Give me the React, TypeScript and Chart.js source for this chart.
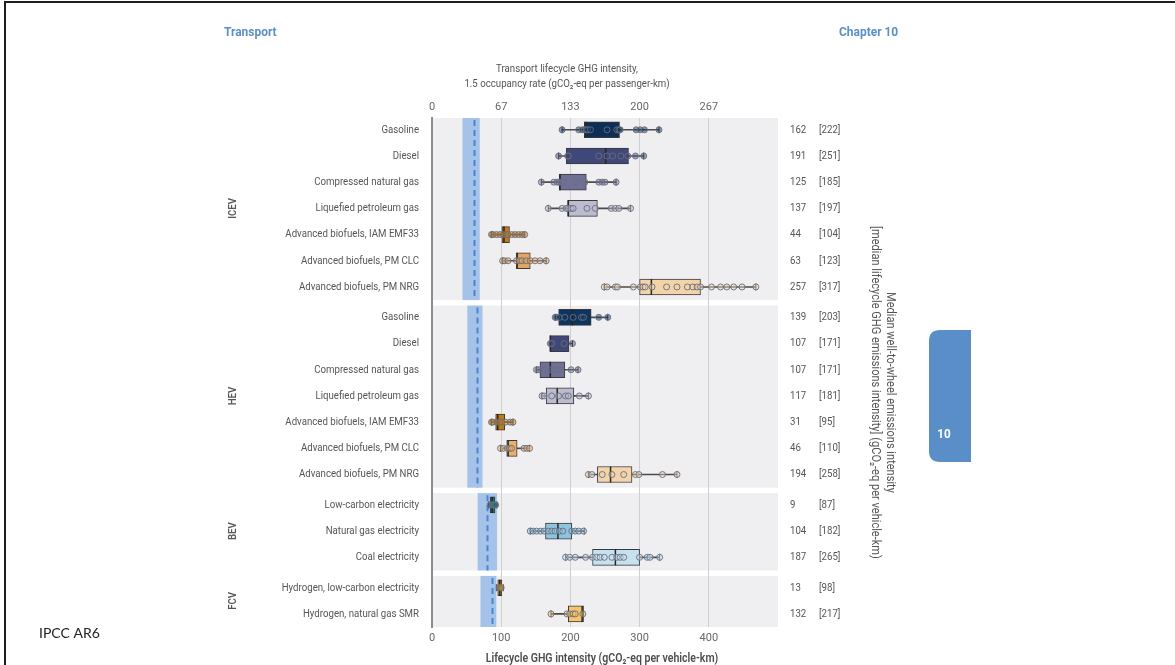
import React, { useEffect, useRef } from "react";
import { Chart, registerables } from "chart.js";

Chart.register(...registerables);

// ---- data -------------------------------------------------------------

const groupNames = ["ICEV", "HEV", "BEV", "FCV"];

const rowLabels = [
  "Gasoline",
  "Diesel",
  "Compressed natural gas",
  "Liquefied petroleum gas",
  "Advanced biofuels, IAM EMF33",
  "Advanced biofuels, PM CLC",
  "Advanced biofuels, PM NRG",
  "Gasoline",
  "Diesel",
  "Compressed natural gas",
  "Liquefied petroleum gas",
  "Advanced biofuels, IAM EMF33",
  "Advanced biofuels, PM CLC",
  "Advanced biofuels, PM NRG",
  "Low-carbon electricity",
  "Natural gas electricity",
  "Coal electricity",
  "Hydrogen, low-carbon electricity",
  "Hydrogen, natural gas SMR",
];

const rowGroup = [0, 0, 0, 0, 0, 0, 0, 1, 1, 1, 1, 1, 1, 1, 2, 2, 2, 3, 3];

// median well-to-wheel intensity (gCO2-eq per vehicle-km)
const wtwMedian = [162, 191, 125, 137, 44, 63, 257, 139, 107, 107, 117, 31, 46, 194, 9, 104, 187, 13, 132];
// median lifecycle intensity (gCO2-eq per vehicle-km)
const lifecycleMedian = [222, 251, 185, 197, 104, 123, 317, 203, 171, 171, 181, 95, 110, 258, 87, 182, 265, 98, 217];

const whiskerLow = [188, 183, 158, 168, 86, 102, 249, 178, 170, 151, 159, 86, 99, 226, 82, 142, 193, 93, 172];
const boxQ1 = [220, 194, 184, 196, 101, 122, 300, 183, 170.5, 156, 165, 92, 108, 239, 84, 164, 232, 95, 197];
const boxQ3 = [271, 284, 223, 239, 112, 142, 388, 230, 198, 192, 205, 105, 123, 289, 91, 202, 300, 101, 219];
const whiskerHigh = [328, 306, 266, 287, 134, 165, 468, 254, 203, 211, 226, 117, 141, 354, 94, 220, 329, 103, 219];

const samplePoints: number[][] = [
  [188, 212, 217, 220, 223, 225, 229, 253, 267, 270, 272, 295, 301, 307, 328],
  [183, 196, 197, 241, 253, 261, 273, 283, 294, 306],
  [158, 176, 181, 184, 187, 190, 208, 221, 241, 246, 250, 266],
  [168, 188, 194, 197, 201, 204, 224, 236, 259, 265, 270, 287],
  [86, 88, 93, 98, 103, 107, 110, 115, 120, 125, 130, 134],
  [102, 105, 110, 122, 126, 130, 136, 142, 149, 156, 165],
  [249, 253, 265, 268, 291, 301, 305, 308, 318, 339, 354, 369, 377, 383, 388, 404, 417, 426, 436, 448, 468],
  [178, 180, 184, 192, 204, 216, 219, 241, 254],
  [171, 173, 191, 203],
  [151, 154, 163, 172, 180, 184, 201, 211],
  [159, 162, 173, 183, 193, 197, 213, 226],
  [86, 88, 94, 98, 101, 106, 113, 117],
  [99, 103, 109, 112, 115, 133, 137, 141],
  [226, 231, 246, 260, 277, 294, 299, 333, 354],
  [84, 87, 88, 90, 92],
  [142, 146, 151, 157, 162, 168, 173, 178, 184, 189, 202, 207, 212, 219],
  [193, 199, 207, 222, 232, 238, 243, 249, 260, 267, 272, 277, 300, 311, 315, 329],
  [97, 98, 100],
  [172, 195, 199, 204, 207, 218],
];

// 1.5 °C-compatible range per powertrain group (low, high, central)
const bandLow = [44, 51, 66, 70];
const bandHigh = [69, 73, 94, 93];
const bandMid = [61, 65, 79, 87];

const xTickValues = [0, 100, 200, 300, 400];
const occupancyRate = 1.5;

// ---- styling ----------------------------------------------------------

const rowColors = [
  "#0c2e57", "#3f4878", "#6f7097", "#bcbbcf", "#c47912", "#e3a65f", "#f3d4aa",
  "#0d3560", "#3f4878", "#6f7097", "#bcbbcf", "#c47912", "#eab06c", "#f3d4aa",
  "#1d6f7c", "#8ec4df", "#c6e2f1",
  "#c98b1d", "#f6c56b",
];

const GROUP_GAP = 0.16;
const PANEL_PAD_TOP = 0.45;
const PANEL_PAD_BOTTOM = 0.5;
const rowPos = rowGroup.map((g, i) => i + g * GROUP_GAP);

const FONT = "Roboto, 'Noto Sans', sans-serif";
const SQUEEZE = 0.84;

function withAlpha(hex: string, a: number) {
  const n = parseInt(hex.slice(1), 16);
  return `rgba(${(n >> 16) & 255},${(n >> 8) & 255},${n & 255},${a})`;
}

type TextOpts = {
  size: number;
  color: string;
  weight?: number | string;
  align?: CanvasTextAlign;
  family?: string;
  squeeze?: number;
  rotate?: number;
};

function drawText(ctx: CanvasRenderingContext2D, text: string, x: number, y: number, o: TextOpts) {
  ctx.save();
  ctx.font = `${o.weight ?? 400} ${o.size}px ${o.family ?? FONT}`;
  ctx.fillStyle = o.color;
  ctx.textAlign = o.align ?? "left";
  ctx.textBaseline = "middle";
  ctx.translate(x, y);
  if (o.rotate) ctx.rotate(o.rotate);
  ctx.scale(o.squeeze ?? SQUEEZE, 1);
  ctx.fillText(text, 0, 0);
  ctx.restore();
}

function groupExtent(g: number, yScale: any) {
  const rows = rowPos.filter((_, i) => rowGroup[i] === g);
  const first = rows[0];
  const last = rows[rows.length - 1];
  const top = yScale.getPixelForValue(first - PANEL_PAD_TOP);
  const bottom = Math.min(yScale.getPixelForValue(last + PANEL_PAD_BOTTOM), yScale.bottom);
  return { top, bottom, center: (yScale.getPixelForValue(first) + yScale.getPixelForValue(last)) / 2 };
}

const figurePlugin = {
  id: "figureDecor",
  beforeDraw(chart: any) {
    const { ctx, chartArea, scales } = chart;
    ctx.save();
    // page frame
    ctx.fillStyle = "#1e1e1e";
    ctx.fillRect(4, 1, chart.width - 4, 2);
    ctx.fillRect(4, 1, 2, chart.height - 1);
    // group panels
    ctx.fillStyle = "#efeef1";
    groupNames.forEach((_, g) => {
      const e = groupExtent(g, scales.y);
      ctx.fillRect(chartArea.left, e.top, chartArea.right - chartArea.left, e.bottom - e.top);
    });
    ctx.restore();
  },
  beforeDatasetsDraw(chart: any) {
    const { ctx, scales } = chart;
    const x = scales.x;
    ctx.save();
    groupNames.forEach((_, g) => {
      const e = groupExtent(g, scales.y);
      const x0 = x.getPixelForValue(bandLow[g]);
      const x1 = x.getPixelForValue(bandHigh[g]);
      ctx.fillStyle = "#a5c3e9";
      ctx.fillRect(x0, e.top, x1 - x0, e.bottom - e.top);
      const xm = Math.round(x.getPixelForValue(bandMid[g])) + 0.5;
      ctx.strokeStyle = "#4a86cf";
      ctx.lineWidth = 2;
      ctx.setLineDash([6, 4]);
      ctx.beginPath();
      ctx.moveTo(xm, e.top + 2);
      ctx.lineTo(xm, e.bottom);
      ctx.stroke();
    });
    ctx.restore();
  },
  afterDraw(chart: any) {
    const { ctx, chartArea, scales } = chart;
    const y = scales.y;
    const midX = (chartArea.left + chartArea.right) / 2;

    // page header
    drawText(ctx, "Transport", 224, 33, { size: 13, weight: 700, color: "#5b8fc7", squeeze: 0.92 });
    drawText(ctx, "Chapter 10", 839, 33, { size: 13, weight: 700, color: "#5b8fc7", squeeze: 0.92 });

    // top axis title
    drawText(ctx, "Transport lifecycle GHG intensity,", midX - 38, 69, { size: 11.5, color: "#555", align: "center" });
    drawText(ctx, "1.5 occupancy rate (gCO\u2082-eq per passenger-km)", midX - 38, 84, { size: 11.5, color: "#555", align: "center" });

    // bottom axis title
    drawText(ctx, "Lifecycle GHG intensity (gCO\u2082-eq per vehicle-km)", midX - 3, 659, {
      size: 12, weight: 600, color: "#4d4d4d", align: "center", squeeze: 0.88,
    });

    // row labels and median values
    rowLabels.forEach((label, i) => {
      const py = y.getPixelForValue(rowPos[i]);
      drawText(ctx, label, chartArea.left - 13, py, { size: 11.5, color: "#555", align: "right" });
      drawText(ctx, String(wtwMedian[i]), chartArea.right + 12, py, { size: 11.5, color: "#555" });
      drawText(ctx, `[${lifecycleMedian[i]}]`, chartArea.right + 41, py, { size: 11.5, color: "#555" });
    });

    // group labels
    groupNames.forEach((name, g) => {
      const e = groupExtent(g, y);
      drawText(ctx, name, 233, e.center, { size: 11.5, weight: 600, color: "#555", align: "center", rotate: -Math.PI / 2 });
    });

    // right-hand axis title
    const rightMid = (chartArea.top + chartArea.bottom) / 2 + 20;
    drawText(ctx, "Median well-to-wheel emissions intensity", 890, rightMid, {
      size: 12, color: "#555", align: "center", rotate: Math.PI / 2, squeeze: 0.92,
    });
    drawText(ctx, "[median lifecycle GHG emissions intensity] (gCO\u2082-eq per vehicle-km)", 875, rightMid, {
      size: 12, color: "#555", align: "center", rotate: Math.PI / 2, squeeze: 0.92,
    });

    // chapter tab
    ctx.save();
    ctx.fillStyle = "#5a8ec8";
    const tx = 929, ty = 330, tw = 42, th = 132, r = 11;
    ctx.beginPath();
    ctx.moveTo(tx + tw, ty);
    ctx.lineTo(tx + r, ty);
    ctx.quadraticCurveTo(tx, ty, tx, ty + r);
    ctx.lineTo(tx, ty + th - r);
    ctx.quadraticCurveTo(tx, ty + th, tx + r, ty + th);
    ctx.lineTo(tx + tw, ty + th);
    ctx.closePath();
    ctx.fill();
    ctx.restore();
    drawText(ctx, "10", 944, 435, { size: 13, weight: 700, color: "#ffffff", align: "center", squeeze: 0.9 });

    // source note
    drawText(ctx, "IPCC AR6", 39, 633, { size: 14, color: "#222", family: "Lato, sans-serif", squeeze: 1 });
  },
};

function buildDatasets() {
  const datasets: any[] = [];
  // whisker spans
  datasets.push({
    type: "bar",
    indexAxis: "y",
    stack: "rows",
    order: 4,
    data: rowPos.map((p, i) => ({ x: [whiskerLow[i], whiskerHigh[i]], y: p })),
    backgroundColor: "#4a4a4a",
    borderWidth: 0,
    barThickness: 1,
  });
  // interquartile boxes
  datasets.push({
    type: "bar",
    indexAxis: "y",
    stack: "rows",
    order: 3,
    data: rowPos.map((p, i) => ({ x: [boxQ1[i], boxQ3[i]], y: p })),
    backgroundColor: rowColors,
    borderColor: "#3a3a3a",
    borderWidth: 1,
    borderSkipped: false,
    barThickness: 16,
  });
  // medians
  datasets.push({
    type: "scatter",
    order: 2,
    data: rowPos.map((p, i) => ({ x: lifecycleMedian[i], y: p })),
    pointStyle: "line",
    pointRotation: 90,
    pointRadius: 8,
    pointBorderColor: "#262626",
    pointBorderWidth: 1.5,
  });
  // whisker caps
  datasets.push({
    type: "scatter",
    order: 1,
    data: rowPos.flatMap((p, i) => [
      { x: whiskerLow[i], y: p },
      { x: whiskerHigh[i], y: p },
    ]),
    pointStyle: "line",
    pointRotation: 90,
    pointRadius: 3.5,
    pointBorderColor: "#3a3a3a",
    pointBorderWidth: 1,
  });
  // individual estimates
  rowPos.forEach((p, i) => {
    datasets.push({
      type: "scatter",
      order: 0,
      data: samplePoints[i].map((v) => ({ x: v, y: p })),
      pointStyle: "circle",
      pointRadius: 3,
      pointBackgroundColor: withAlpha(rowColors[i], 0.45),
      pointBorderColor: "rgba(105,110,125,0.9)",
      pointBorderWidth: 1,
    });
  });
  return datasets;
}

const tickFont = { family: FONT, size: 11 };

export default function App() {
  const canvasRef = useRef<HTMLCanvasElement>(null);

  useEffect(() => {
    if (!canvasRef.current) return;
    const chart = new Chart(canvasRef.current, {
      type: "bar",
      data: { datasets: buildDatasets() },
      options: {
        indexAxis: "y",
        animation: false,
        responsive: false,
        maintainAspectRatio: false,
        events: [],
        layout: { padding: { left: 432, right: 397, top: 98, bottom: 18 } },
        plugins: {
          legend: { display: false },
          tooltip: { enabled: false },
        },
        scales: {
          x: {
            type: "linear",
            position: "bottom",
            min: 0,
            max: 500,
            stacked: false,
            afterBuildTicks: (s: any) => {
              s.ticks = xTickValues.map((v) => ({ value: v }));
            },
            afterFit: (s: any) => {
              s.height = 20;
            },
            grid: {
              color: (c: any) => (c.tick && c.tick.value === 0 ? "rgba(0,0,0,0)" : "#cfcfcf"),
              lineWidth: 1,
              drawTicks: false,
            },
            border: { display: false },
            ticks: { padding: 5, color: "#666", font: tickFont },
          },
          x2: {
            type: "linear",
            position: "top",
            min: 0,
            max: 500,
            afterBuildTicks: (s: any) => {
              s.ticks = xTickValues.map((v) => ({ value: v }));
            },
            afterFit: (s: any) => {
              s.height = 20;
            },
            grid: { display: false, drawTicks: false },
            border: { display: false },
            ticks: {
              padding: 4,
              color: "#666",
              font: tickFont,
              callback: (v: any) => String(Math.round(Number(v) / occupancyRate)),
            },
          },
          y: {
            type: "linear",
            reverse: true,
            min: -PANEL_PAD_TOP,
            max: rowPos[rowPos.length - 1] + PANEL_PAD_BOTTOM,
            offset: false,
            afterFit: (s: any) => {
              s.width = 0;
            },
            ticks: { display: false },
            grid: { display: false, drawTicks: false, offset: false },
            border: { display: true, color: "#8c8c8c", width: 2 },
          },
        },
      } as any,
      plugins: [figurePlugin],
    });
    return () => chart.destroy();
  }, []);

  return (
    <div style={{ position: "fixed", left: 0, top: 0, width: 1175, height: 665, background: "#ffffff" }}>
      <canvas ref={canvasRef} width={1175} height={665} style={{ display: "block", width: 1175, height: 665 }} />
    </div>
  );
}
